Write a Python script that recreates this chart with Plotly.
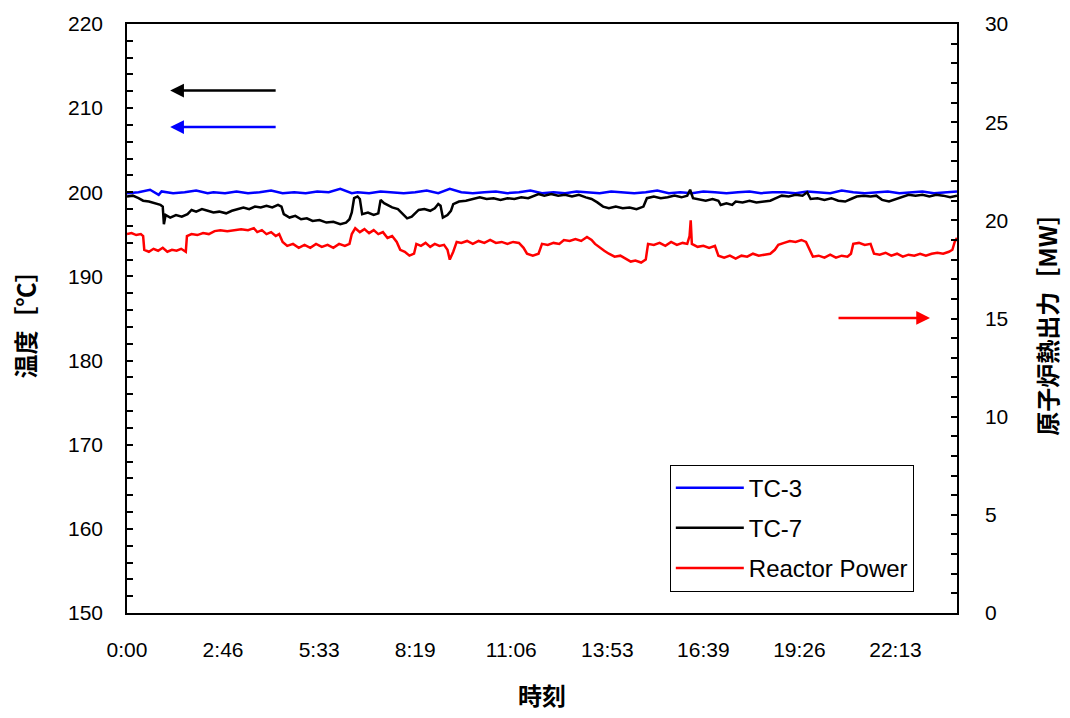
import plotly.graph_objects as go

# ---------------- data ----------------
x_tick_labels = ["0:00", "2:46", "5:33", "8:19", "11:06", "13:53", "16:39", "19:26", "22:13"]
x_tick_step_min = 10000 / 60  # Excel major unit (minutes)

# TC-3 temperature [degC] : (minutes, value)
tc3_points = [
    (0, 199.9), (20, 200.0), (40, 200.3), (55, 199.7), (60, 200.1), (80, 199.9), (100, 200.0),
    (120, 200.2), (140, 199.9), (150, 200.0), (170, 199.9), (190, 200.1), (210, 199.9), (230, 200.0),
    (250, 200.2), (270, 199.9), (290, 200.0), (310, 199.9), (330, 200.1), (350, 200.0), (370, 200.4),
    (390, 199.9), (400, 200.0), (420, 199.9), (440, 200.1), (460, 200.0), (480, 199.9), (500, 200.0),
    (520, 200.2), (540, 199.9), (560, 200.4), (580, 200.0), (600, 199.9), (620, 200.0), (640, 200.1),
    (660, 199.9), (680, 200.0), (700, 200.2), (720, 199.9), (740, 200.0), (760, 199.9), (780, 200.1),
    (800, 200.0), (820, 199.9), (840, 200.1), (860, 200.0), (880, 199.9), (900, 200.0), (920, 200.2),
    (940, 199.9), (960, 200.0), (980, 199.9), (1000, 200.1), (1020, 200.0), (1040, 199.9), (1060, 200.0),
    (1080, 200.1), (1100, 199.9), (1120, 200.0), (1140, 200.0), (1160, 199.9), (1180, 200.1),
    (1200, 200.0), (1220, 199.9), (1240, 200.2), (1260, 200.0), (1280, 199.9), (1300, 200.0),
    (1320, 200.1), (1340, 199.9), (1360, 200.0), (1380, 200.1), (1400, 199.9), (1420, 200.0), (1440, 200.1),
]

# TC-7 temperature [degC]
tc7_points = [
    (0, 199.5), (10, 199.6), (20, 199.3), (28, 199.0), (38, 198.9), (48, 198.7), (58, 198.5), (62, 198.3),
    (64, 196.2), (67, 197.3), (75, 197.0), (85, 197.3), (95, 197.1), (105, 197.4), (112, 197.9),
    (120, 197.7), (130, 198.0), (140, 197.8), (150, 197.6), (160, 197.7), (172, 197.5), (182, 197.8),
    (192, 198.0), (202, 198.2), (212, 198.0), (222, 198.3), (232, 198.2), (242, 198.4), (252, 198.2),
    (262, 198.5), (268, 198.3), (272, 197.4), (282, 197.0), (292, 197.2), (302, 196.8), (312, 196.9),
    (322, 196.6), (334, 196.7), (346, 196.4), (358, 196.5), (370, 196.2), (380, 196.4), (386, 196.8),
    (390, 197.6), (394, 199.3), (400, 199.5), (404, 199.2), (408, 197.4), (418, 197.6), (428, 197.3),
    (436, 197.5), (440, 199.1), (446, 198.7), (452, 198.5), (460, 198.2), (470, 198.0), (478, 197.5),
    (486, 196.9), (494, 197.1), (500, 197.5), (506, 197.9), (516, 198.0), (526, 197.8), (534, 198.1),
    (540, 198.6), (544, 198.4), (548, 197.0), (556, 197.3), (562, 197.8), (566, 198.6), (576, 198.9),
    (588, 199.0), (600, 199.2), (612, 199.4), (624, 199.2), (636, 199.3), (648, 199.1), (660, 199.3),
    (672, 199.2), (684, 199.4), (696, 199.3), (706, 199.6), (714, 199.8), (724, 199.6), (736, 199.8),
    (748, 199.6), (760, 199.7), (772, 199.5), (784, 199.7), (796, 199.4), (806, 199.2), (816, 198.8),
    (826, 198.3), (836, 198.1), (848, 198.3), (860, 198.1), (872, 198.2), (884, 198.0), (896, 198.3),
    (902, 199.3), (914, 199.5), (926, 199.3), (938, 199.4), (950, 199.6), (962, 199.4), (972, 199.6),
    (977, 200.3), (982, 199.3), (992, 199.2), (1004, 199.0), (1016, 199.2), (1026, 199.0), (1030, 198.5),
    (1040, 198.7), (1050, 198.5), (1056, 198.9), (1068, 198.8), (1080, 199.0), (1092, 198.8),
    (1104, 198.9), (1116, 199.0), (1126, 199.3), (1136, 199.6), (1148, 199.5), (1160, 199.7),
    (1172, 199.6), (1180, 200.0), (1186, 199.2), (1198, 199.3), (1210, 199.1), (1222, 199.3),
    (1234, 199.0), (1246, 198.9), (1256, 199.2), (1266, 199.5), (1278, 199.6), (1290, 199.5),
    (1300, 199.6), (1310, 199.1), (1322, 198.9), (1334, 199.2), (1346, 199.5), (1356, 199.7),
    (1368, 199.6), (1380, 199.7), (1392, 199.5), (1404, 199.7), (1416, 199.6), (1428, 199.4), (1440, 199.6),
]

# Reactor power [MW]
power_points = [
    (0, 19.3), (8, 19.35), (16, 19.25), (24, 19.3), (28, 19.2), (30, 18.5), (38, 18.4), (46, 18.55),
    (54, 18.45), (62, 18.6), (70, 18.4), (78, 18.5), (86, 18.45), (94, 18.55), (102, 18.4), (104, 19.2),
    (112, 19.3), (122, 19.25), (132, 19.35), (142, 19.3), (152, 19.45), (162, 19.5), (174, 19.45),
    (186, 19.5), (198, 19.55), (210, 19.5), (220, 19.6), (226, 19.4), (234, 19.5), (242, 19.3),
    (250, 19.4), (258, 19.2), (264, 19.3), (270, 18.9), (278, 18.7), (288, 18.8), (298, 18.6),
    (308, 18.75), (318, 18.6), (328, 18.8), (338, 18.65), (348, 18.75), (358, 18.6), (368, 18.8),
    (378, 18.7), (386, 18.8), (390, 19.3), (396, 19.6), (404, 19.4), (412, 19.55), (420, 19.35),
    (428, 19.5), (436, 19.3), (444, 19.4), (452, 19.1), (460, 19.2), (468, 18.9), (474, 18.5),
    (482, 18.4), (490, 18.2), (498, 18.3), (502, 18.8), (510, 18.7), (518, 18.85), (526, 18.65),
    (534, 18.8), (542, 18.7), (550, 18.75), (556, 18.5), (560, 18.0), (566, 18.4), (572, 18.9),
    (580, 18.85), (590, 18.95), (600, 18.8), (610, 18.95), (620, 18.85), (630, 19.0), (640, 18.85),
    (650, 18.9), (660, 18.8), (670, 18.9), (680, 18.85), (688, 18.6), (694, 18.3), (704, 18.2),
    (714, 18.3), (720, 18.8), (730, 18.75), (740, 18.85), (750, 18.8), (758, 19.0), (768, 18.95),
    (778, 19.05), (788, 18.95), (798, 19.15), (806, 19.0), (812, 18.8), (820, 18.6), (828, 18.45),
    (836, 18.3), (846, 18.15), (856, 18.2), (866, 18.05), (874, 17.9), (882, 17.95), (892, 17.85),
    (900, 18.0), (904, 18.8), (914, 18.75), (924, 18.85), (934, 18.7), (944, 18.9), (954, 18.75),
    (964, 18.85), (972, 18.8), (976, 19.2), (978, 20.0), (980, 18.8), (990, 18.65), (1000, 18.7),
    (1010, 18.6), (1020, 18.7), (1026, 18.2), (1036, 18.1), (1046, 18.2), (1056, 18.05), (1066, 18.2),
    (1076, 18.15), (1086, 18.3), (1096, 18.2), (1106, 18.25), (1116, 18.3), (1124, 18.5), (1130, 18.75),
    (1140, 18.85), (1150, 18.95), (1160, 18.9), (1170, 19.0), (1178, 18.9), (1184, 18.5), (1190, 18.15),
    (1200, 18.2), (1210, 18.1), (1220, 18.25), (1230, 18.1), (1240, 18.2), (1250, 18.15), (1256, 18.3),
    (1260, 18.8), (1270, 18.85), (1280, 18.75), (1290, 18.8), (1296, 18.3), (1306, 18.25), (1316, 18.35),
    (1326, 18.2), (1336, 18.3), (1346, 18.15), (1356, 18.25), (1366, 18.2), (1376, 18.3), (1386, 18.2),
    (1396, 18.3), (1406, 18.35), (1416, 18.3), (1426, 18.4), (1432, 18.5), (1436, 18.9), (1440, 19.1),
]

# ---------------- figure ----------------
TICK_FONT = dict(family="Liberation Sans, Arial, sans-serif", size=21, color="#000")
TITLE_FONT = dict(family="Noto Sans CJK JP, sans-serif", size=24, color="#000", weight="bold")

fig = go.Figure()

def unzip(points):
    return [p[0] for p in points], [p[1] for p in points]

t3, v3 = unzip(tc3_points)
t7, v7 = unzip(tc7_points)
tp, vp = unzip(power_points)

fig.add_trace(go.Scatter(x=t3, y=v3, mode="lines", name="TC-3", legendgroup="a",
                         line=dict(color="#0000ff", width=2.5)))
fig.add_trace(go.Scatter(x=t7, y=v7, mode="lines", name="TC-7", legendgroup="b",
                         line=dict(color="#000000", width=2.5)))
fig.add_trace(go.Scatter(x=tp, y=vp, mode="lines", name="Reactor Power", legendgroup="c",
                         line=dict(color="#ff0000", width=2.5), yaxis="y2"))

tick_vals = [i * x_tick_step_min for i in range(len(x_tick_labels))]

fig.update_layout(
    width=1070, height=718,
    margin=dict(l=127, r=113, t=20, b=103),
    paper_bgcolor="white", plot_bgcolor="white",
    showlegend=True,
    legend=dict(x=0.654, y=0.252, xanchor="left", yanchor="top",
                bordercolor="#000", borderwidth=1, bgcolor="white",
                font=dict(family="Liberation Sans, Arial, sans-serif", size=24, color="#000"),
                tracegroupgap=6, itemwidth=68),
    xaxis=dict(range=[0, 1440], tickvals=tick_vals, ticktext=x_tick_labels,
               showline=True, linecolor="#000", linewidth=1.5, mirror=True,
               ticks="", showgrid=False, zeroline=False, tickfont=TICK_FONT,
               ticklabelstandoff=17,
               title=dict(text="時刻", font=TITLE_FONT, standoff=28)),
    yaxis=dict(range=[150, 220], dtick=10, showline=True, linecolor="#000", linewidth=1.5,
               ticks="inside", ticklen=6, tickcolor="#000", tickwidth=1.5,
               minor=dict(dtick=2, ticks="inside", ticklen=6, tickcolor="#000", tickwidth=1.5),
               showgrid=False, zeroline=False, tickfont=TICK_FONT, ticklabelstandoff=18,
               title=dict(text="温度［℃］", font=TITLE_FONT, standoff=26)),
    yaxis2=dict(range=[0, 30], dtick=5, overlaying="y", side="right", anchor="x",
                showline=True, linecolor="#000", linewidth=1.5,
                ticks="inside", ticklen=6, tickcolor="#000", tickwidth=1.5,
                minor=dict(dtick=1, ticks="inside", ticklen=6, tickcolor="#000", tickwidth=1.5),
                showgrid=False, zeroline=False, tickfont=TICK_FONT, ticklabelstandoff=22,
                title=dict(text="原子炉熱出力［MW］", font=TITLE_FONT, standoff=33)),
)

# direction arrows (paper coords)
arrow_common = dict(xref="paper", yref="paper", axref="pixel", ayref="pixel", text="",
                    showarrow=True, arrowhead=2, arrowsize=1.1, arrowwidth=2.5, ay=0)
fig.add_annotation(x=0.052, y=0.887, ax=107, arrowcolor="#000000", **arrow_common)
fig.add_annotation(x=0.052, y=0.825, ax=107, arrowcolor="#0000ff", **arrow_common)
fig.add_annotation(x=0.9675, y=0.501, ax=-93, arrowcolor="#ff0000", **arrow_common)

fig.write_html("out.html")
